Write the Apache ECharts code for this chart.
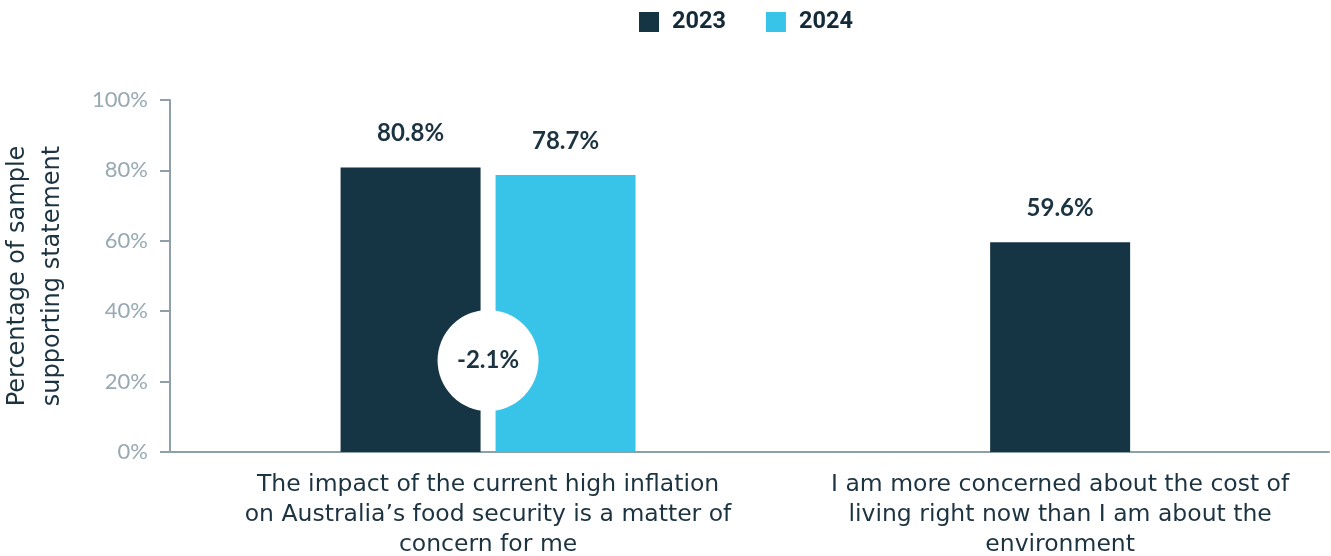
<!DOCTYPE html>
<html>
<head>
<meta charset="utf-8">
<script src="https://cdn.jsdelivr.net/npm/echarts@6/dist/echarts.min.js"></script>
<style>
  html, body { margin: 0; padding: 0; background: #ffffff; }
  #chart { width: 1331px; height: 556px; }
</style>
</head>
<body>
<div id="chart"></div>
<script>
// ---- data ----
const categories = [
  'The impact of the current high inflation\non Australia\u2019s food security is a matter of\nconcern for me',
  'I am more concerned about the cost of\nliving right now than I am about the\nenvironment'
];
const seriesNames = ['2023', '2024'];
const values2023 = [80.8, 59.6];
const values2024 = [78.7, null];
const changes = [-2.1, null];
const yTicks = [0, 20, 40, 60, 80, 100];

// ---- style ----
const DARK = '#163544';
const LIGHT = '#38c4e9';
const AXIS = '#8d9fa9';
const TICKTXT = '#97a9b2';
const TXT = '#1c3341';
const FONT = 'Lato, "Open Sans", sans-serif';
const WIDEFONT = '"DejaVu Sans", sans-serif';
const BUBBLE_Y = 26;

const xMin = 0.444, xMax = 2.47;

// Categories having both years are grouped; single-year categories are centred.
const grouped2023 = [], grouped2024 = [], single2023 = [], bubbles = [];
categories.forEach((c, i) => {
  const x = i + 1;
  if (values2024[i] != null) {
    grouped2023.push([x, values2023[i]]);
    grouped2024.push([x, values2024[i]]);
  } else {
    single2023.push([x, values2023[i]]);
  }
  if (changes[i] != null) bubbles.push([x, BUBBLE_Y, changes[i]]);
});

const valueLabel = {
  show: true, position: 'top', distance: 22,
  formatter: p => p.value[1].toFixed(1) + '%',
  fontFamily: FONT, fontWeight: 'bold', fontSize: 24, color: TXT
};

const xAxisBase = {
  type: 'value', min: xMin, max: xMax,
  splitLine: { show: false }
};

const chart = echarts.init(document.getElementById('chart'), null, { renderer: 'canvas' });
chart.setOption({
  animation: false,
  backgroundColor: '#ffffff',
  legend: {
    data: seriesNames,
    top: 10, left: 639, padding: 0,
    itemWidth: 20, itemHeight: 20, itemGap: 40,
    icon: 'rect',
    textStyle: { fontFamily: 'Roboto, sans-serif', fontWeight: 'bold', fontSize: 23.5, color: '#142a38', padding: [0, 0, 0, 8] }
  },
  grid: { left: 170, right: 2, top: 100, bottom: 104, outerBoundsMode: 'none', containLabel: false },
  xAxis: [
    Object.assign({}, xAxisBase, {
      axisLine: { show: true, onZero: true, lineStyle: { color: AXIS, width: 2 } },
      axisTick: { show: false },
      axisLabel: {
        customValues: categories.map((c, i) => i + 1),
        formatter: v => categories[Math.round(v) - 1] || '',
        margin: 18, fontFamily: WIDEFONT, fontSize: 23.5, lineHeight: 30, color: TXT, align: 'center'
      }
    }),
    Object.assign({}, xAxisBase, {
      show: false
    })
  ],
  yAxis: {
    type: 'value', min: 0, max: 100, interval: 20,
    name: 'Percentage of sample\nsupporting statement',
    nameLocation: 'middle', nameGap: 100, nameRotate: 90,
    nameTextStyle: { fontFamily: WIDEFONT, fontSize: 24, lineHeight: 35, color: TXT },
    axisLine: { show: true, lineStyle: { color: AXIS, width: 2 } },
    axisTick: { show: true, length: 10, lineStyle: { color: AXIS, width: 2 }, customValues: yTicks },
    axisLabel: { margin: 22, formatter: '{value}%', fontFamily: FONT, fontSize: 22, color: TICKTXT },
    splitLine: { show: false }
  },
  series: [
    {
      name: '2023', type: 'bar', xAxisIndex: 0, data: grouped2023,
      barWidth: 140, barGap: '10.7%',
      itemStyle: { color: DARK }, label: valueLabel
    },
    {
      name: '2024', type: 'bar', xAxisIndex: 0, data: grouped2024,
      barWidth: 140, barGap: '10.7%',
      itemStyle: { color: LIGHT }, label: valueLabel
    },
    {
      name: '2023', type: 'bar', xAxisIndex: 1, data: single2023,
      barWidth: 140,
      itemStyle: { color: DARK }, label: valueLabel
    },
    {
      name: 'change', type: 'scatter', xAxisIndex: 0, data: bubbles,
      symbol: 'circle', symbolSize: 101, z: 10,
      itemStyle: { color: '#ffffff', opacity: 1 },
      label: {
        show: true, position: 'inside',
        formatter: p => p.value[2].toFixed(1) + '%',
        fontFamily: FONT, fontWeight: 'bold', fontSize: 24, color: TXT
      }
    }
  ]
});
</script>
</body>
</html>
